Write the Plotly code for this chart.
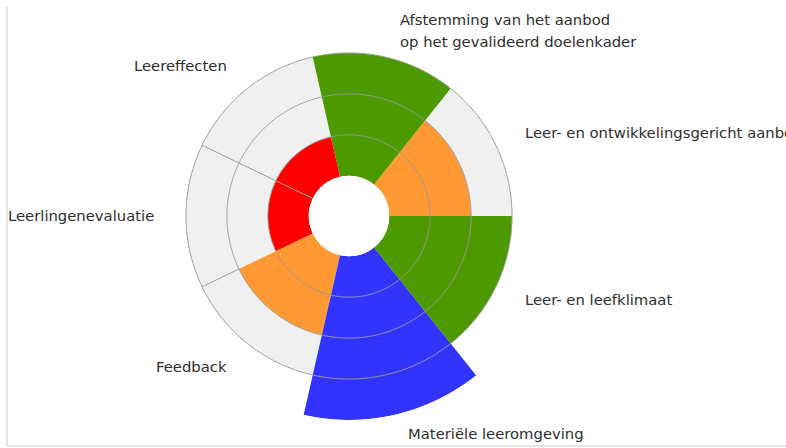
import numpy as np
import plotly.graph_objects as go

# Quality domains, listed counter-clockwise starting from the east axis
categories = [
    "Leer- en ontwikkelingsgericht aanbod",
    "Afstemming van het aanbod<br>op het gevalideerd doelenkader",
    "Leereffecten",
    "Leerlingenevaluatie",
    "Feedback",
    "Materiële leeromgeving",
    "Leer- en leefklimaat",
]
scores = [2, 3, 1, 1, 2, 4, 3]
score_colors = ["#ff9933", "#4c9900", "#ff0000", "#ff0000", "#ff9933", "#3333ff", "#4c9900"]
scale_max = 3          # every domain gets a grey backdrop up to this level
ring_levels = [1, 2, 3]

# ---- geometry -------------------------------------------------------------
W, H = 786, 448
CX, CY = 349, 216       # centre of the rose, pixels from top-left
R_PX = 204              # outer radius of the polar area
HOLE = 0.197
R_MAX = 4
unit_px = R_PX * (1 - HOLE) / R_MAX
hole_px = R_PX * HOLE

n = len(categories)
step = 360.0 / n
theta = [step * (i + 0.5) for i in range(n)]

GRID = "#9a9a9a"
BACK = "#f0f0f0"

fig = go.Figure()

# grey backdrop sectors
fig.add_trace(go.Barpolar(
    r=[scale_max] * n, theta=theta, width=[step] * n,
    marker=dict(color=BACK, line=dict(width=0)),
    hoverinfo="skip", showlegend=False,
))

# score sectors
fig.add_trace(go.Barpolar(
    r=scores, theta=theta, width=[step] * n,
    marker=dict(color=score_colors, line=dict(width=0)),
    customdata=categories,
    hovertemplate="%{customdata}: %{r}<extra></extra>",
    showlegend=False,
))

# separators between neighbouring sectors where both sides share a fill
sep_r, sep_t = [], []
for i in range(n):
    j = (i + 1) % n
    edge = step * (i + 1)
    segs = []
    if score_colors[i] == score_colors[j]:
        segs.append((0, min(scores[i], scores[j])))
    lo = max(scores[i], scores[j])
    if lo < scale_max:
        segs.append((lo, scale_max))
    # merge touching segments
    merged = []
    for a, b in segs:
        if merged and abs(merged[-1][1] - a) < 1e-9:
            merged[-1] = (merged[-1][0], b)
        else:
            merged.append((a, b))
    for a, b in merged:
        sep_r += [a, b, None]
        sep_t += [edge, edge, None]

fig.add_trace(go.Scatterpolar(
    r=sep_r, theta=sep_t, mode="lines",
    line=dict(color=GRID, width=1),
    hoverinfo="skip", showlegend=False,
))

# level rings drawn on top of the sectors
ring_theta = np.linspace(0, 360, 721)
for lvl in ring_levels:
    fig.add_trace(go.Scatterpolar(
        r=[lvl] * len(ring_theta), theta=ring_theta, mode="lines",
        line=dict(color=GRID, width=1),
        hoverinfo="skip", showlegend=False,
    ))

# ---- category labels around the rose -------------------------------------
LABEL_GAP = 30
LINE_H = 22
nudges = [(0, 0), (6, 3), (0, 0), (0, 0), (0, 0), (5, -11), (0, 0)]
annotations = []
for i, (txt, ang) in enumerate(zip(categories, theta)):
    rho = hole_px + unit_px * max(scores[i], scale_max) + LABEL_GAP
    a = np.deg2rad(ang)
    px = CX + rho * np.cos(a) + nudges[i][0]
    py = CY - rho * np.sin(a) + nudges[i][1]
    c = np.cos(a)
    if c > 0.05:
        xanchor = "left"
    elif c < -0.05:
        xanchor = "right"
    else:
        xanchor = "center"
    lines = txt.split("<br>")
    for k, line in enumerate(lines):
        ly = py + (k - (len(lines) - 1) / 2) * LINE_H
        annotations.append(dict(
            text=line, x=px / W, y=1 - ly / H, xref="paper", yref="paper",
            xanchor=xanchor, yanchor="middle", showarrow=False,
            font=dict(family="DejaVu Sans", size=14.8, color="#2e2e2e"),
        ))

fig.update_layout(
    width=W, height=H,
    margin=dict(l=0, r=0, t=0, b=0),
    paper_bgcolor="white",
    plot_bgcolor="white",
    showlegend=False,
    annotations=annotations,
    polar=dict(
        domain=dict(x=[(CX - R_PX) / W, (CX + R_PX) / W],
                    y=[1 - (CY + R_PX) / H, 1 - (CY - R_PX) / H]),
        hole=HOLE,
        bgcolor="white",
        barmode="overlay",
        radialaxis=dict(range=[0, R_MAX], visible=False, showgrid=False),
        angularaxis=dict(rotation=0, direction="counterclockwise",
                         visible=False, showgrid=False),
    ),
    shapes=[
        dict(type="line", xref="paper", yref="paper",
             x0=7 / W, x1=7 / W, y0=1 - 446 / H, y1=1 - 7 / H,
             line=dict(color="#e4e4e4", width=2)),
        dict(type="line", xref="paper", yref="paper",
             x0=7 / W, x1=1, y0=1 - 446 / H, y1=1 - 446 / H,
             line=dict(color="#e4e4e4", width=2)),
    ],
)

fig.write_html("out.html", config={"displayModeBar": False})
